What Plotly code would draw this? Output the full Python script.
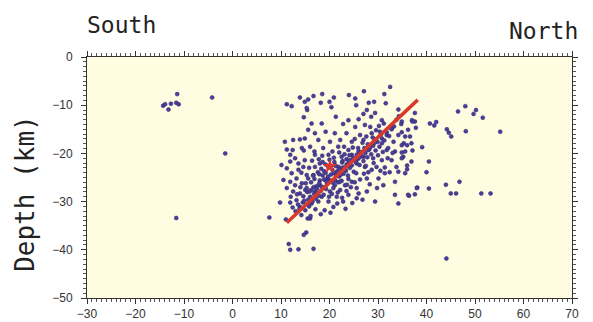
import plotly.graph_objects as go

# ---- data (x = distance along profile, km; depth in km, negative down) ----
west_x = [-14.3, -13.9, -12.7, -13.2, -11.6, -11.1, -11.4, -4.2, -1.5, -11.6]
west_depth = [-10.1, -9.8, -9.7, -10.9, -9.5, -9.8, -7.7, -8.4, -20.0, -33.4]

east_x = [46.5, 48.0, 50.2, 49.7, 51.6, 55.2, 48.1, 44.2, 44.6, 45.1, 40.7, 41.6, 42.0, 37.6,
          37.0, 37.6, 37.8, 39.1, 37.1, 40.5, 40.0, 36.0, 36.0, 36.6, 38.1, 40.5, 37.6, 36.4,
          44.0, 46.8, 45.0, 46.1, 51.3, 53.2, 44.1, 35.3, 36.0, 34.9, 35.2, 34.9, 34.8]
east_depth = [-11.3, -10.2, -11.0, -11.8, -12.6, -15.5, -15.4, -15.0, -15.7, -16.5, -13.8, -14.2,
              -13.5, -11.6, -13.1, -13.4, -14.7, -18.7, -19.4, -21.7, -23.9, -23.3, -22.5, -16.5,
              -27.1, -27.3, -28.5, -28.8, -26.5, -25.9, -28.3, -28.3, -28.3, -28.3, -41.8, -17.9,
              -18.3, -19.8, -20.7, -15.6, -13.9]

deep_x = [7.6, 11.0, 15.5, 15.2, 14.7, 11.6, 11.9, 13.6, 16.7, 9.8, 11.9, 13.2, 13.9, 15.6, 16.0]
deep_depth = [-33.3, -33.7, -33.5, -36.4, -36.9, -38.8, -40.0, -39.9, -39.8, -30.2, -30.2, -29.7,
              -31.1, -30.7, -33.5]

upper_x = [32.5, 27.1, 31.3, 24.0, 18.5, 16.7, 20.9, 25.3, 15.6, 20.0, 18.2, 28.1, 29.2, 31.6,
           25.5, 20.4, 34.2, 27.7, 29.4, 15.4, 21.3, 23.9, 26.0, 27.0, 28.6, 30.8, 31.2, 34.9,
           37.1, 16.3, 18.4, 22.8, 25.3, 27.3, 28.4, 32.8, 36.2, 15.6, 17.0, 19.2, 21.1, 23.5,
           26.3, 28.7, 30.4, 31.8, 34.2, 35.6, 14.9, 17.7, 20.1, 22.2, 24.6, 27.0, 29.4, 30.8,
           33.2, 34.9, 36.9, 16.0, 18.7, 21.8, 23.9, 25.9, 28.0, 31.8, 33.5, 35.6, 17.0, 19.8,
           22.5, 24.6, 27.0, 29.0, 30.8, 32.8, 34.9, 36.9, 14.9, 18.0, 21.1, 23.5, 25.6, 27.3,
           29.7, 31.4, 33.8, 11.2, 12.2, 13.9, 14.9, 15.3, 14.7, 10.8, 12.5, 13.9, 11.2, 12.4,
           14.3, 14.7, 11.9, 12.9, 10.1, 11.9, 13.6, 14.6]
upper_depth = [-6.2, -7.1, -7.7, -7.9, -7.7, -8.1, -8.4, -8.6, -8.8, -9.3, -9.5, -9.5, -9.3, -9.6,
               -10.0, -10.4, -10.9, -11.0, -11.6, -11.0, -12.4, -13.1, -12.9, -11.8, -12.4, -13.1,
               -13.8, -13.4, -13.4, -13.8, -13.8, -13.9, -14.5, -14.1, -14.5, -14.8, -15.1, -15.1,
               -15.8, -15.5, -15.8, -15.8, -16.2, -15.8, -15.5, -16.2, -16.2, -16.5, -16.9, -17.2,
               -17.6, -17.2, -17.6, -17.2, -17.1, -17.9, -17.6, -18.3, -17.9, -18.6, -18.9, -18.6,
               -19.3, -18.9, -19.3, -19.3, -19.6, -19.6, -20.3, -20.3, -20.7, -20.3, -20.7, -21.0,
               -21.4, -21.4, -21.0, -21.7, -21.4, -22.1, -22.4, -22.4, -22.1, -22.8, -22.8, -22.9,
               -22.8, -9.8, -10.2, -8.4, -9.3, -10.6, -12.5, -17.6, -17.2, -17.1, -19.2, -19.3,
               -18.9, -19.4, -20.3, -21.0, -22.4, -21.7, -22.1, -22.8]

lower_x = [11.2, 12.2, 13.6, 15.3, 10.5, 11.9, 12.9, 14.3, 11.2, 12.5, 13.9, 15.0, 15.6, 16.7,
           15.3, 17.0, 18.0, 19.1, 18.4, 19.8, 20.8, 21.5, 22.2, 23.2, 24.6, 25.6, 26.0, 25.6,
           27.7, 29.4, 30.1, 31.1, 33.5, 33.5, 34.2, 36.2, 38.0, 35.6, 34.2, 31.4, 28.7, 27.7,
           21.1, 20.1, 17.7, 16.3, 23.9, 22.8]
lower_depth = [-23.1, -24.1, -23.4, -24.5, -25.5, -25.9, -26.6, -26.2, -27.2, -27.9, -28.3, -27.6,
               -25.2, -24.5, -27.2, -27.9, -26.6, -25.5, -29.0, -30.0, -31.1, -29.0, -27.6, -26.6,
               -25.9, -27.2, -28.3, -29.3, -27.9, -30.0, -25.2, -26.6, -25.9, -28.6, -30.4, -28.6,
               -27.2, -24.1, -23.8, -24.1, -23.4, -25.2, -26.6, -27.9, -30.0, -30.4, -28.6, -30.0]

core_x = [13.0, 13.8, 14.5, 14.2, 15.0, 15.8, 16.5, 16.0, 17.2, 17.5, 18.2, 18.8, 19.0, 19.5,
          19.9, 20.5, 20.8, 21.2, 21.8, 22.0, 22.5, 22.9, 23.4, 23.8, 24.2, 24.6, 25.0, 25.4,
          25.8, 26.2, 26.6, 27.0, 27.4, 27.8, 28.2, 28.6, 29.0, 29.5, 29.9, 30.3, 30.8, 31.3,
          31.8, 32.3, 32.8, 33.3, 33.8, 34.3, 14.6, 15.6, 16.8, 17.3, 18.0, 18.6, 19.2, 19.6,
          20.3, 20.6, 21.5, 21.9, 22.4, 16.2, 16.9, 17.6, 18.3, 17.0, 16.4, 15.8, 14.2, 13.2,
          15.1, 20.0, 21.0, 22.7, 23.5, 24.1, 19.2, 17.8, 18.5, 16.9, 20.6, 22.0, 23.0, 24.8,
          26.0, 25.2, 26.8, 27.6, 28.9, 29.6, 30.2, 21.6, 22.6, 23.5, 24.4, 25.2, 26.3, 27.1,
          28.0, 29.1, 30.0, 31.0, 32.1, 33.0, 19.0, 18.2, 17.1, 20.2, 23.3, 24.7, 26.8, 28.3,
          29.8, 30.5, 32.4, 32.0, 12.4, 12.0, 13.3, 14.0, 16.1]
core_depth = [-32.0, -31.5, -30.2, -32.8, -31.8, -31.0, -30.0, -29.0, -29.4, -28.2, -27.8, -28.6,
              -27.0, -26.3, -29.0, -28.4, -27.2, -25.6, -26.0, -24.8, -25.7, -24.2, -23.6, -24.6,
              -23.0, -22.5, -23.8, -21.8, -21.2, -22.4, -20.6, -21.6, -19.9, -20.8, -19.2, -20.2,
              -18.4, -19.4, -17.6, -18.6, -16.9, -17.3, -15.6, -16.4, -15.0, -14.4, -13.0, -12.3,
              -28.9, -29.6, -28.4, -26.8, -25.6, -24.6, -24.0, -25.2, -24.4, -23.4, -23.8, -22.8,
              -23.2, -26.0, -25.3, -23.9, -23.2, -22.8, -21.5, -23.0, -24.0, -25.2, -26.2, -21.3,
              -21.8, -21.6, -21.2, -20.4, -22.3, -21.2, -20.5, -19.6, -19.6, -19.8, -18.6, -18.8,
              -19.6, -17.0, -17.8, -16.5, -16.7, -15.2, -14.3, -30.4, -29.2, -27.8, -27.0, -26.0,
              -25.4, -24.2, -23.9, -22.0, -20.4, -19.7, -18.9, -19.9, -31.8, -32.6, -31.6, -32.3,
              -31.5, -30.3, -29.6, -26.4, -27.2, -23.6, -23.9, -21.0, -31.2, -29.0, -28.5, -27.0,
              -33.0]

band_x = [13.5, 14.8, 15.4, 16.2, 16.7, 17.4, 17.9, 18.4, 18.9, 19.4, 19.7, 20.2, 20.9, 21.4,
          21.9, 22.3, 22.8, 23.2, 23.7, 24.1, 24.5, 24.9, 25.6, 26.1, 26.5, 27.2, 27.9, 28.4,
          29.3, 30.6, 15.9, 17.8, 19.3, 20.7, 22.1, 23.9, 25.5, 27.5, 17.9, 18.9, 19.8, 21.3,
          22.6, 24.0, 18.6, 20.9, 23.1, 16.6, 21.7, 23.6]
band_depth = [-30.6, -29.8, -28.0, -27.6, -27.0, -27.3, -26.2, -26.9, -25.4, -25.8, -24.8, -25.6,
              -24.1, -24.6, -23.3, -24.4, -22.9, -23.2, -22.2, -21.9, -21.4, -20.9, -20.3, -20.9,
              -19.7, -18.9, -18.1, -18.7, -17.8, -16.1, -27.9, -28.8, -27.4, -26.1, -25.9, -25.3,
              -24.1, -22.6, -24.3, -23.7, -22.9, -22.6, -21.9, -21.4, -21.8, -20.9, -20.2, -24.6,
              -28.1, -26.5]

fault_x = [11.2, 38.2]
fault_depth = [-34.4, -8.9]

main_x = [20.1]
main_depth = [-22.7]

x_ticks = [-30, -20, -10, 0, 10, 20, 30, 40, 50, 60, 70]
y_ticks = [0, -10, -20, -30, -40, -50]

# ---- figure ----
all_x = west_x + east_x + deep_x + upper_x + lower_x + core_x + band_x
all_depth = west_depth + east_depth + deep_depth + upper_depth + lower_depth + core_depth + band_depth

fig = go.Figure()
fig.add_trace(go.Scatter(
    x=all_x, y=all_depth, mode="markers",
    marker=dict(size=4, color="#4b3f9c", line=dict(width=0.5, color="#2c2466")),
    hoverinfo="skip", showlegend=False))
fig.add_trace(go.Scatter(
    x=fault_x, y=fault_depth, mode="lines",
    line=dict(color="#d8392b", width=3.5), hoverinfo="skip", showlegend=False))
fig.add_trace(go.Scatter(
    x=main_x, y=main_depth, mode="markers",
    marker=dict(size=11, color="#e0352a", symbol="star"),
    hoverinfo="skip", showlegend=False))

axis_common = dict(
    showline=True, linecolor="#333", linewidth=1, mirror="ticks",
    ticks="outside", ticklen=5, tickwidth=1, tickcolor="#333",
    showgrid=False, zeroline=False, automargin=False,
    tickfont=dict(family="Liberation Sans, Arial", size=12, color="#333"),
    minor=dict(ticks="outside", ticklen=3, tickwidth=0.8, tickcolor="#555", dtick=1, showgrid=False),
)

fig.update_xaxes(range=[-30, 70], tickvals=x_ticks, ticklabelstandoff=0, **axis_common)
fig.update_yaxes(range=[-50, 0], tickvals=y_ticks, ticklabelstandoff=6, **axis_common)

title_font = dict(family="DejaVu Sans Mono, Liberation Mono, monospace", size=23, color="#222")
fig.update_layout(
    width=593, height=322,
    margin=dict(l=87, r=21, t=57, b=24),
    paper_bgcolor="white", plot_bgcolor="#fffce2",
    annotations=[
        dict(text="South", xref="paper", yref="paper", x=-0.005, y=1.131,
             xanchor="left", yanchor="middle", showarrow=False, font=title_font),
        dict(text="North", xref="paper", yref="paper", x=1.0165, y=1.108,
             xanchor="right", yanchor="middle", showarrow=False, font=title_font),
        dict(text="Depth (km)", xref="paper", yref="paper", x=-0.128, y=0.436,
             xanchor="center", yanchor="middle", textangle=-90, showarrow=False,
             font=dict(family="DejaVu Sans Mono, Liberation Mono, monospace", size=26, color="#222")),
    ],
)

fig.write_html("out.html")
